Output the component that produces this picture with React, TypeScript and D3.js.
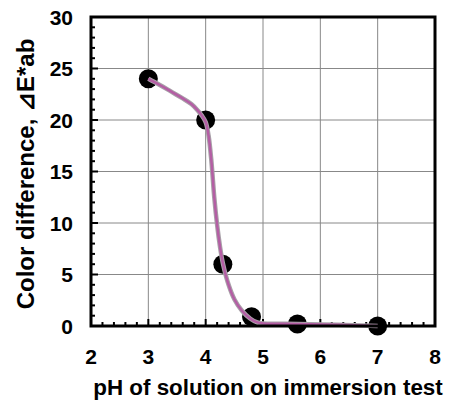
import { useEffect, useRef } from "react"
import * as d3 from "d3"

// measured points (pH, color difference)
const phValues = [3, 4, 4.3, 4.8, 5.6, 7]
const deltaE = [24, 20, 6, 0.9, 0.2, 0]

// fitted curve
const curvePh = [3, 3.2, 3.4, 3.6, 3.75, 3.85, 3.93, 4.0, 4.05, 4.1, 4.15, 4.2, 4.25, 4.3, 4.4, 4.5, 4.63, 4.78, 4.9, 5.0, 5.3, 5.6, 6.3, 7]
const curveDeltaE = [24, 23.4, 22.75, 22.1, 21.55, 21.0, 20.45, 19.8, 18.5, 16, 12.5, 9.8, 7.7, 6.1, 4.0, 2.6, 1.5, 0.7, 0.35, 0.25, 0.22, 0.2, 0.12, 0]

const xTicks = [2, 3, 4, 5, 6, 7, 8]
const yTicks = [0, 5, 10, 15, 20, 25, 30]

const width = 449
const height = 403
const margin = { top: 17, right: 14, bottom: 77, left: 91 }
const font = "'Liberation Sans', Arial, sans-serif"

const App = () => {
    const ref = useRef<SVGSVGElement>(null)

    useEffect(() => {
        const svg = d3.select(ref.current)
        svg.selectAll("*").remove()

        const x = d3.scaleLinear().domain([2, 8]).range([margin.left, width - margin.right])
        const y = d3.scaleLinear().domain([0, 30]).range([height - margin.bottom, margin.top])
        const [x0, x1] = x.range()
        const [y0, y1] = y.range()

        // grid
        const grid = svg.append("g").attr("stroke", "#888").attr("stroke-width", 1)
        grid.selectAll("line.gx")
            .data(xTicks.slice(1, -1))
            .enter().append("line")
            .attr("x1", d => x(d)).attr("x2", d => x(d))
            .attr("y1", y1).attr("y2", y0)
        grid.selectAll("line.gy")
            .data(yTicks.slice(1, -1))
            .enter().append("line")
            .attr("x1", x0).attr("x2", x1)
            .attr("y1", d => y(d)).attr("y2", d => y(d))

        // inner ticks
        const ticks = svg.append("g").attr("stroke", "#000").attr("stroke-width", 2)
        ticks.selectAll("line.tx")
            .data(d3.range(0, 31).map(i => 2 + i * 0.2))
            .enter().append("line")
            .attr("x1", d => x(d)).attr("x2", d => x(d))
            .attr("y1", y0).attr("y2", (d, i) => y0 - (i % 5 === 0 ? 7 : 4))
        ticks.selectAll("line.ty")
            .data(d3.range(0, 31))
            .enter().append("line")
            .attr("y1", d => y(d)).attr("y2", d => y(d))
            .attr("x1", x0).attr("x2", (d) => x0 + (d % 5 === 0 ? 7 : 4))

        // markers
        svg.append("g").selectAll("circle")
            .data(phValues.map((p, i) => [p, deltaE[i]]))
            .enter().append("circle")
            .attr("cx", d => x(d[0]))
            .attr("cy", d => y(d[1]))
            .attr("r", 9.5)
            .attr("fill", "#000")

        // curve
        const line = d3.line<number[]>()
            .x(d => x(d[0]))
            .y(d => y(d[1]))
            .curve(d3.curveCatmullRom.alpha(0.5))
        const curveData = curvePh.map((p, i) => [p, curveDeltaE[i]])
        svg.append("path").attr("d", line(curveData))
            .attr("fill", "none").attr("stroke", "#a8a0a8").attr("stroke-width", 4.5)
        svg.append("path").attr("d", line(curveData))
            .attr("fill", "none").attr("stroke", "#b45ea4").attr("stroke-width", 2.5)

        // frame
        svg.append("rect")
            .attr("x", x0).attr("y", y1)
            .attr("width", x1 - x0).attr("height", y0 - y1)
            .attr("fill", "none").attr("stroke", "#000").attr("stroke-width", 3)

        // tick labels
        svg.append("g").selectAll("text")
            .data(xTicks)
            .enter().append("text")
            .attr("x", d => x(d)).attr("y", 364)
            .attr("text-anchor", "middle")
            .attr("font-family", font).attr("font-weight", "bold").attr("font-size", 21)
            .text(d => d)
        svg.append("g").selectAll("text")
            .data(yTicks)
            .enter().append("text")
            .attr("x", 73).attr("y", d => y(d) + 7.5)
            .attr("text-anchor", "end")
            .attr("font-family", font).attr("font-weight", "bold").attr("font-size", 21)
            .text(d => d)

        // axis titles
        svg.append("text")
            .attr("x", 268).attr("y", 395)
            .attr("text-anchor", "middle")
            .attr("font-family", font).attr("font-weight", "bold").attr("font-size", 22.4)
            .text("pH of solution on immersion test")
        svg.append("text")
            .attr("transform", "translate(34, 174) rotate(-90)")
            .attr("text-anchor", "middle")
            .attr("font-family", font).attr("font-weight", "bold").attr("font-size", 24)
            .text("Color difference, ⊿E*ab")
    })

    return (
        <svg ref={ref} width={width} height={height}
            style={{ position: "absolute", left: 0, top: 0, background: "#fff" }} />
    )
}

export default App
